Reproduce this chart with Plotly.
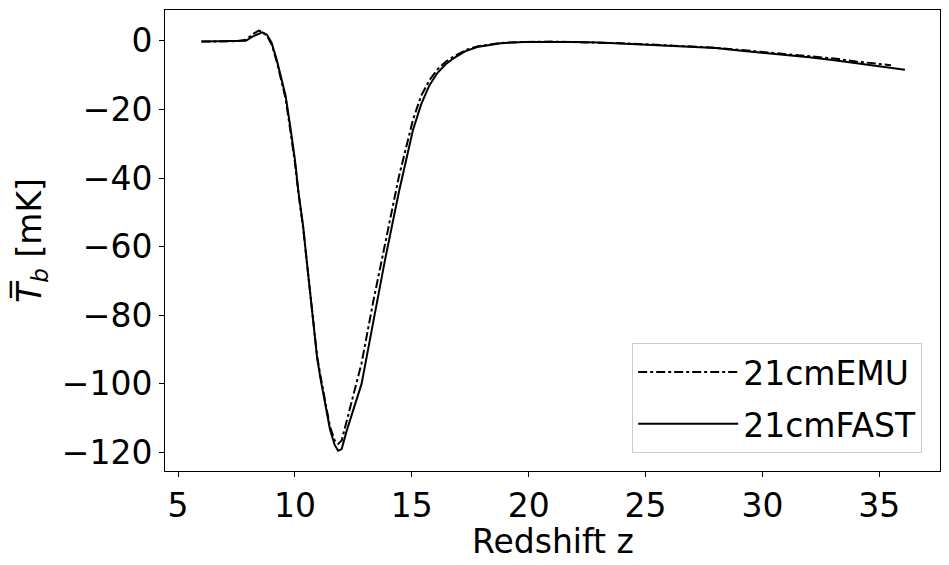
import plotly.graph_objects as go

# Redshift grid and brightness temperature (mK)
z_fast = [6.0, 6.5, 7.0, 7.5, 7.9, 8.2, 8.45, 8.6, 8.8, 9.0, 9.22, 9.44, 9.6, 9.8, 10.0,
          10.15, 10.35, 10.5, 10.65, 10.8, 10.95, 11.1, 11.3, 11.5, 11.7, 11.85, 12.0,
          12.2, 12.5, 12.85, 13.35, 13.85, 14.45, 15.05, 15.4, 15.75, 16.1, 16.45, 16.8,
          17.3, 17.8, 18.8, 19.8, 21.0, 22.0, 23.0, 24.0, 25.0, 26.0, 27.0, 28.0, 29.0,
          30.0, 31.0, 32.0, 33.0, 34.0, 35.0, 36.1]
tb_fast = [-0.2, -0.2, -0.15, -0.1, 0.0, 1.3, 2.2, 2.5, 1.8, -0.5, -5.5, -11.4, -16.0,
           -25.0, -34.7, -44.0, -54.0, -63.8, -73.4, -83.0, -92.5, -98.7, -106.0, -113.3,
           -117.8, -119.5, -119.0, -114.0, -107.5, -100.0, -82.0, -64.0, -44.0, -26.0,
           -18.5, -13.0, -9.3, -6.8, -5.0, -3.0, -1.8, -0.7, -0.3, -0.2, -0.3, -0.5,
           -0.8, -1.1, -1.5, -1.8, -2.1, -2.8, -3.4, -4.0, -4.8, -5.6, -6.5, -7.4, -8.4]

z_emu = [6.0, 6.5, 7.0, 7.5, 7.9, 8.2, 8.45, 8.6, 8.8, 9.0, 9.22, 9.44, 9.6, 9.8, 10.0,
         10.15, 10.35, 10.5, 10.65, 10.8, 10.95, 11.1, 11.3, 11.5, 11.7, 11.85, 12.0,
         12.2, 12.5, 12.85, 13.35, 13.85, 14.45, 15.05, 15.4, 15.75, 16.1, 16.45, 16.8,
         17.3, 17.8, 18.8, 19.8, 21.0, 22.0, 23.0, 24.0, 25.0, 26.0, 27.0, 28.0, 29.0,
         30.0, 31.0, 32.0, 33.0, 34.0, 35.0, 35.5]
tb_emu = [-0.2, -0.2, -0.15, -0.1, 0.3, 2.0, 3.0, 2.6, 1.5, -1.0, -6.0, -12.0, -16.8,
          -26.0, -35.5, -44.5, -54.5, -64.0, -73.5, -83.0, -92.0, -98.0, -105.5, -112.5,
          -116.5, -117.5, -116.5, -111.0, -103.0, -94.0, -76.0, -59.0, -39.5, -23.0,
          -16.0, -11.5, -8.3, -6.1, -4.5, -2.7, -1.6, -0.6, -0.3, -0.2, -0.3, -0.5,
          -0.7, -1.0, -1.3, -1.6, -2.0, -2.6, -3.2, -3.8, -4.4, -5.1, -6.0, -6.8, -7.1]

x_ticks = [5, 10, 15, 20, 25, 30, 35]
y_ticks = [0, -20, -40, -60, -80, -100, -120]

FONT = "DejaVu Sans"
FS = 33

fig = go.Figure()
fig.add_trace(go.Scatter(x=z_emu, y=tb_emu, mode="lines", name="21cmEMU", legendgroup="emu",
                         line=dict(color="black", width=2, dash="dashdot")))
fig.add_trace(go.Scatter(x=z_fast, y=tb_fast, mode="lines", name="21cmFAST", legendgroup="fast",
                         line=dict(color="black", width=2)))

axis_common = dict(showline=True, linecolor="black", linewidth=1, mirror=True,
                   ticks="outside", ticklen=5, tickwidth=1, tickcolor="black",
                   showgrid=False, zeroline=False,
                   tickfont=dict(family=FONT, size=FS, color="black"))

fig.update_xaxes(range=[4.44, 37.6], tickvals=x_ticks, **axis_common)
fig.update_yaxes(range=[-125.4, 9.0], tickvals=y_ticks,
                 title=dict(text="<i>T̅</i><sub><i>b</i></sub> [mK]",
                            font=dict(family=FONT, size=FS, color="black"), standoff=10),
                 **axis_common)

fig.add_annotation(text="Redshift z", xref="paper", yref="paper", x=0.5, y=-0.1540,
                   xanchor="center", yanchor="middle", showarrow=False, borderpad=0,
                   font=dict(family=FONT, size=FS, color="black"))

fig.update_layout(
    width=949, height=565,
    margin=dict(l=165, r=9, t=10, b=94),
    paper_bgcolor="white", plot_bgcolor="white",
    font=dict(family=FONT, size=FS, color="black"),
    legend=dict(x=0.977, y=0.039, xanchor="right", yanchor="bottom",
                bgcolor="white", bordercolor="#cccccc", borderwidth=1,
                font=dict(family=FONT, size=FS, color="black"),
                itemwidth=100, tracegroupgap=6),
    showlegend=True,
)

fig.write_html("out.html")
